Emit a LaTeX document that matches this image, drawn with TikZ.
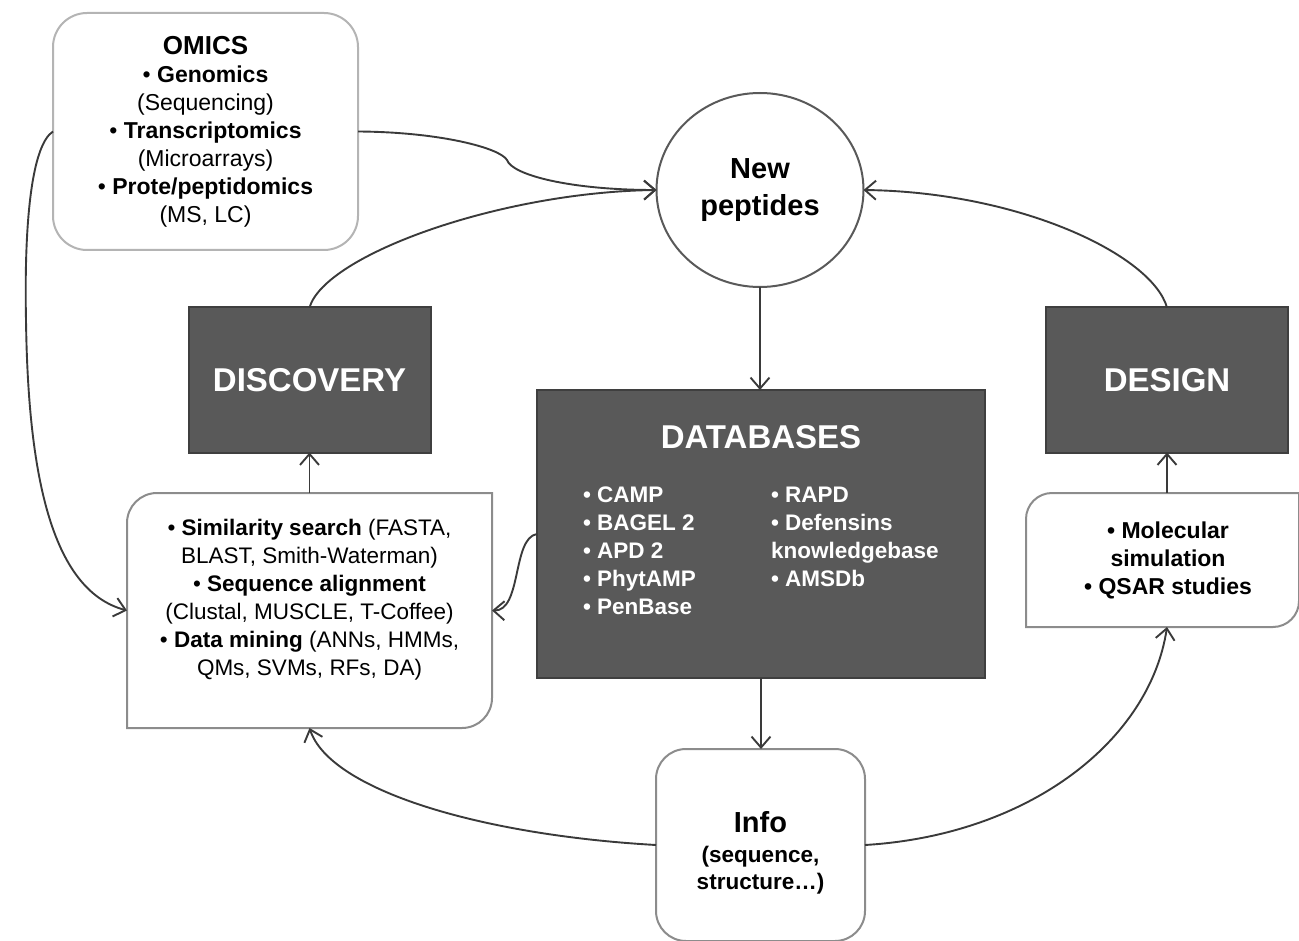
\documentclass[tikz,border=0pt]{standalone}
\usepackage{fontspec}
\setmainfont{Liberation Sans}
\usepackage{tikz}
\usetikzlibrary{arrows.meta,positioning,shapes.geometric}
\definecolor{slabgrey}{HTML}{595959}
\definecolor{slabedge}{HTML}{3F3F3F}
\definecolor{rimgrey}{HTML}{8C8C8C}
\definecolor{paleedge}{HTML}{B4B4B4}
\definecolor{wiregrey}{HTML}{3A3A3A}
\newcommand{\fsz}[2]{\fontsize{#1}{#2}\selectfont}
\newcommand{\halfround}[2]{%
  % only the top-left and bottom-right corners are rounded
  \draw[rimgrey,line width=2pt] (#1.west) [rounded corners=#2] -- (#1.north west) -- (#1.north)
    [sharp corners] -- (#1.north east) -- (#1.east)
    [rounded corners=#2] -- (#1.south east) -- (#1.south)
    [sharp corners] -- (#1.south west) -- cycle;}

\begin{document}
\begin{tikzpicture}[x=1pt,y=-1pt,
    wire/.style={wiregrey,line width=1.9pt,-{Straight Barb[length=11pt,width=19pt]}},
    slab/.style={draw=slabedge,fill=slabgrey,line width=2pt,outer sep=0pt,inner sep=0pt,
      text=white,font=\bfseries\fsz{33}{40}},
    softbox/.style={draw=rimgrey,fill=white,line width=2pt,outer sep=0pt,inner sep=0pt,align=center},
    blank/.style={outer sep=0pt,inner sep=0pt},
    body/.style={inner sep=0pt,align=center,font=\fsz{22.5}{28}}]
    \useasboundingbox (0,0) rectangle (1299,941);

    % sources: omics and the new peptides
    \node[softbox,draw=paleedge,rounded corners=34pt,minimum width=305pt,minimum height=237pt,
      font=\fsz{23}{28}] (omics) at (205.5,131.5)
      {{\bfseries\fsz{26}{28}OMICS}\\ • \textbf{Genomics}\\ (Sequencing)\\ • \textbf{Transcriptomics}\\
       (Microarrays)\\ • \textbf{Prote/peptidomics}\\ (MS, LC)};
    \node[ellipse,draw=slabgrey,line width=2pt,minimum width=207pt,minimum height=194pt,
      inner sep=0pt,outer sep=0pt,align=center,font=\bfseries\fsz{29}{37}] (np) at (760,190)
      {New\\ peptides};

    % dark blocks
    \node[slab,minimum width=242pt,minimum height=145pt] (disc) at (309.5,380) {DISCOVERY};
    \node[slab,minimum width=242pt,minimum height=145pt] (design) at (1167,380) {DESIGN};
    \node[slab,minimum width=448pt,minimum height=288pt] (db) at (761,534) {};
    \node[blank,text=white,font=\bfseries\fsz{33}{40}] (dbtitle) at (761,437) {DATABASES};
    \node[blank,anchor=north west,align=left,text=white,font=\bfseries\fsz{22.5}{28}] (dbleft)
      at (583,487) {• CAMP\\ • BAGEL 2\\ • APD 2\\ • PhytAMP\\ • PenBase};
    \node[blank,anchor=north west,align=left,text=white,font=\bfseries\fsz{22.5}{28}] (dbright)
      at (771,487) {• RAPD\\ • Defensins\\ knowledgebase\\ • AMSDb};

    % method boxes
    \node[blank,minimum width=365pt,minimum height=235pt] (sim) at (309.5,610.5) {};
    \halfround{sim}{30pt}
    \node[body] (simtext) at (309.5,600)
      {• \textbf{Similarity search} (FASTA,\\ BLAST, Smith-Waterman)\\ • \textbf{Sequence alignment}\\
       (Clustal, MUSCLE, T-Coffee)\\ • \textbf{Data mining} (ANNs, HMMs,\\ QMs, SVMs, RFs, DA)};
    \node[blank,minimum width=273pt,minimum height=134pt] (meth) at (1162.5,560) {};
    \halfround{meth}{26pt}
    \node[body,font=\bfseries\fsz{23}{28}] (methtext) at (1168,560)
      {• Molecular\\ simulation\\ • QSAR studies};

    % info
    \node[softbox,rounded corners=30pt,minimum width=209pt,minimum height=192pt] (info) at (760.5,845) {};
    \node[blank,font=\bfseries\fsz{29}{34}] (infohead) at (760.5,822) {Info};
    \node[body,font=\bfseries\fsz{22.5}{27}] (infotext) at (760.5,870) {(sequence,\\ structure…)};

    % connectors
    \draw[wire] (np.south) -- (np.south |- db.north);
    \draw[wire] (db.south) -- (db.south |- info.north);
    \draw[wire] (sim.north) -- (sim.north |- disc.south);
    \draw[wire] (design.south |- meth.north) -- (design.south);
    \draw[wire] (omics.east) .. controls (440,132) and (500,148) .. (507,160)
      .. controls (512,175) and (570,190) .. (np.west);
    \draw[wire] (disc.north) .. controls (325,255) and (500,192) .. (np.west);
    \draw[wire] (design.north) .. controls (1152,255) and (1020,192) .. (np.east);
    \draw[wire] (db.west) .. controls (512,538) and (522,611) .. (sim.east);
    \draw[wire] (omics.west) .. controls (32,145) and (24,220) .. (26,320)
      .. controls (28,470) and (50,590) .. (sim.west);
    \draw[wire] (info.west) .. controls (480,835) and (330,790) .. (sim.south);
    \draw[wire] (info.east) .. controls (1030,835) and (1150,740) .. (design.south |- meth.south);
\end{tikzpicture}
\end{document}
